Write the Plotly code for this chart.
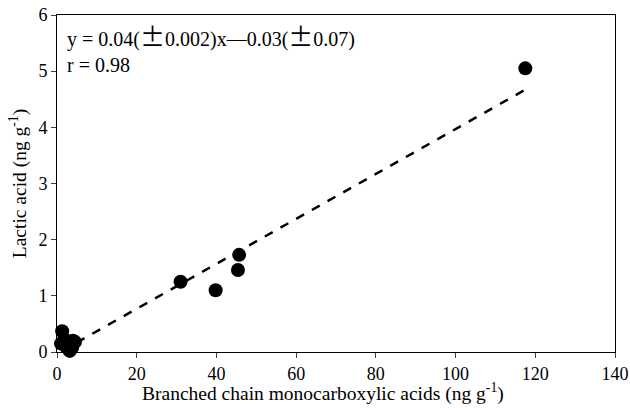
import plotly.graph_objects as go

x_vals = [1.3, 1.0, 2.0, 3.2, 3.8, 4.5, 2.8, 4.0, 31.0, 39.8, 45.4, 45.7, 117.5]
y_vals = [0.37, 0.15, 0.22, 0.02, 0.08, 0.18, 0.12, 0.20, 1.25, 1.10, 1.46, 1.73, 5.05]
slope = 0.04
intercept = -0.03
fit_x = [1.0, 117.5]
fit_y = [slope * v + intercept for v in fit_x]

x_ticks = [0, 20, 40, 60, 80, 100, 120, 140]
y_ticks = [0, 1, 2, 3, 4, 5, 6]

font = "Liberation Serif, Times New Roman, serif"
cjk = "<span style=\"font-family:'Noto Sans CJK SC';font-size:25px\">{}</span>"

fig = go.Figure()
fig.add_trace(go.Scatter(x=x_vals, y=y_vals, mode="markers",
                         marker=dict(size=14, color="black"), showlegend=False, cliponaxis=False))
fig.add_trace(go.Scatter(x=fit_x, y=fit_y, mode="lines",
                         line=dict(color="black", width=2.5, dash="dash"), showlegend=False))

fig.update_layout(
    width=630, height=410,
    margin=dict(l=57, r=15, t=15, b=58),
    plot_bgcolor="white", paper_bgcolor="white",
    font=dict(family=font, size=18, color="black"),
    xaxis=dict(range=[0, 140], tickvals=x_ticks, ticks="outside", ticklen=5, tickwidth=1,
               showline=True, linecolor="black", linewidth=1, mirror=True, showgrid=False, zeroline=False,
               automargin=False, ticklabeloverflow="allow",
               tickfont=dict(size=18)),
    yaxis=dict(range=[0, 6], tickvals=y_ticks, ticks="outside", ticklen=5, tickwidth=1,
               showline=True, linecolor="black", linewidth=1, mirror=True, showgrid=False, zeroline=False,
               automargin=False, ticklabeloverflow="allow",
               title=dict(text="Lactic acid (ng g<sup>-1</sup>)", font=dict(size=19.5), standoff=6),
               tickfont=dict(size=18)),
)
fig.add_annotation(xref="paper", yref="paper", x=0.477, y=-0.119, xanchor="center", yanchor="middle",
                   text="Branched chain monocarboxylic acids (ng g<sup>-1</sup>)", showarrow=False,
                   font=dict(size=19.5, family=font, color="black"))
eq = "y = 0.04(" + cjk.format("\u00b1") + "0.002)x\u2014" + "0.03(" + cjk.format("\u00b1") + "0.07)"
fig.add_annotation(xref="paper", yref="paper", x=0.015, y=1.0, xanchor="left", yanchor="top",
                   text=eq + "<br>r = 0.98", showarrow=False, align="left",
                   font=dict(size=20, family=font, color="black"))
fig.write_html("out.html", config={"displayModeBar": False},
               post_script="document.body.style.margin='0';")
